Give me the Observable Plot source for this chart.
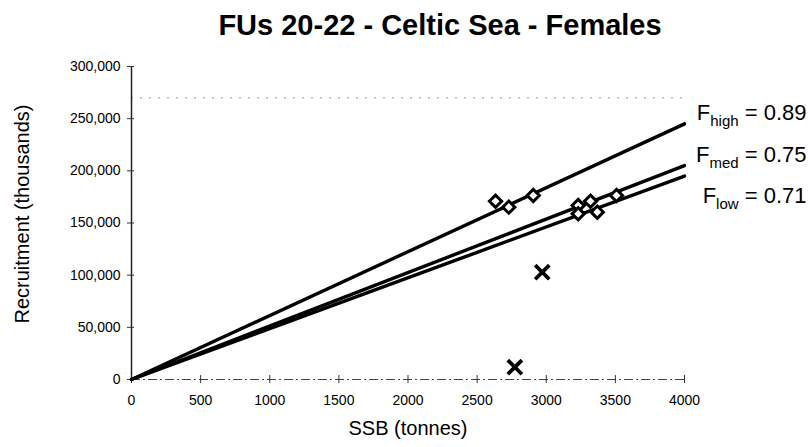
<!DOCTYPE html>
<html><head><meta charset="utf-8">
<script src="https://cdn.jsdelivr.net/npm/d3@7"></script>
<script src="https://cdn.jsdelivr.net/npm/@observablehq/plot@0.6"></script>
<style>html,body{margin:0;padding:0;background:#fff;}</style>
</head><body><div id="chart"></div>
<script>
// ---- data ----
const titleText = "FUs 20-22 - Celtic Sea - Females";
const xTitle = "SSB (tonnes)";
const yTitle = "Recruitment (thousands)";
const xTicks = [0, 500, 1000, 1500, 2000, 2500, 3000, 3500, 4000];
const yTicks = [0, 50000, 100000, 150000, 200000, 250000, 300000];
const ssbMax = 4000;
// F reference lines (through origin)
const fNames = ["high", "med", "low"];
const fValues = [0.89, 0.75, 0.71];
const fEndRec = [245000, 205000, 195000];
const fLabelRec = [255000, 215000, 176000];
// used stock-recruit points (diamonds)
const ssbUsed = [2633, 2729, 2906, 3231, 3320, 3231, 3369, 3508];
const recUsed = [170900, 165200, 176400, 166800, 170900, 158800, 160400, 176400];
// excluded points (crosses)
const ssbExcl = [2971, 2773];
const recExcl = [102900, 11800];
// faint dotted scan line
const faintLineRec = [270000];

// ---- tables built from the arrays ----
const lineData = fNames.flatMap((n, i) => [
  {name: n, ssb: 0, rec: 0},
  {name: n, ssb: ssbMax, rec: fEndRec[i]}
]);
const used = ssbUsed.map((s, i) => ({ssb: s, rec: recUsed[i]}));
const excl = ssbExcl.map((s, i) => ({ssb: s, rec: recExcl[i]}));
const labels = fNames.map((n, i) => ({ssb: ssbMax, rec: fLabelRec[i], text: `F${n} = ${fValues[i].toFixed(2)}`}));

const chart = Plot.plot({
  width: 808, height: 447,
  marginLeft: 131, marginRight: 124, marginTop: 66, marginBottom: 68,
  style: {fontFamily: "'Liberation Sans', Arial, sans-serif", fontSize: "14px", background: "#fff", color: "#000"},
  x: {domain: [0, ssbMax]},
  y: {domain: [0, 300000]},
  marks: [
    Plot.ruleY(faintLineRec, {stroke: "#999", strokeDasharray: "2,7"}),
    Plot.ruleY([0], {stroke: "#444", strokeDasharray: "9,3,2,3"}),
    Plot.ruleX([0], {stroke: "#222", strokeWidth: 1.5}),
    Plot.axisX({ticks: xTicks, tickSize: 8, dy: -4, fill: "none", label: null, stroke: "#333"}),
    Plot.axisX({ticks: xTicks, tickSize: 0, tickPadding: 16, tickFormat: "d", label: null}),
    Plot.axisY({ticks: yTicks, tickSize: 7, dx: 3, fill: "none", label: null, stroke: "#333"}),
    Plot.axisY({ticks: yTicks, tickSize: 0, tickPadding: 11, tickFormat: d3.format(","), label: null}),
    Plot.line(lineData, {x: "ssb", y: "rec", z: "name", stroke: "#000", strokeWidth: 3.4}),
    Plot.dot(used, {x: "ssb", y: "rec", symbol: "diamond2", r: 5.5, fill: "#fff", stroke: "#000", strokeWidth: 3}),
    Plot.dot(excl, {x: "ssb", y: "rec", symbol: "times", r: 6.5, stroke: "#000", strokeWidth: 3.8}),
    Plot.text(labels, {x: "ssb", y: "rec", text: "text", textAnchor: "end", dx: 122, fontSize: 22}),
    Plot.text([titleText], {text: d => d, frameAnchor: "top", dy: -52, dx: 32, fontSize: 29, fontWeight: "bold"}),
    Plot.text([yTitle], {text: d => d, frameAnchor: "left", textAnchor: "middle", rotate: -90, dx: -109, dy: -9, fontSize: 20}),
    Plot.text([xTitle], {text: d => d, frameAnchor: "bottom", textAnchor: "middle", dy: 55, dx: 0, fontSize: 20})
  ]
});

// subscripts for the F labels
d3.select(chart).selectAll("text").each(function () {
  const m = this.textContent.match(/^F(high|med|low) = (.+)$/);
  if (!m) return;
  const t = d3.select(this);
  t.text("");
  t.append("tspan").text("F");
  t.append("tspan").attr("font-size", "15px").attr("dy", 6).text(m[1]);
  t.append("tspan").attr("dy", -6).text(" = " + m[2]);
});

document.getElementById("chart").appendChild(chart);
</script>
</body></html>
